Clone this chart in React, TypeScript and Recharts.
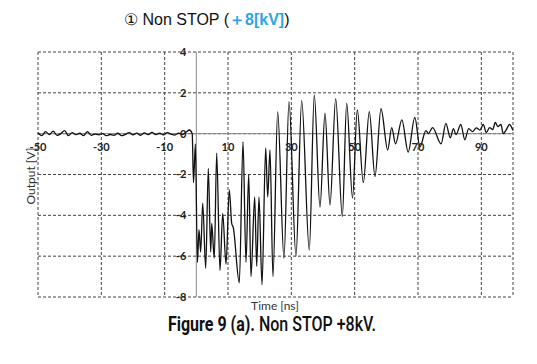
import { LineChart, Line, XAxis, YAxis, CartesianGrid, ReferenceLine, ReferenceDot } from "recharts";

// time in ns
const times = [
  -50, -48.8, -47.6, -46.4, -45.2, -44, -42.8, -41.6, -40.4, -39.2, -38, -36.8, -35.6, -34.4, -33.2, -32,
  -30.8, -29.6, -28.4, -27.2, -26, -24.8, -23.6, -22.4, -21.2, -20, -18.8, -17.6, -16.4, -15.2, -14, -12.8,
  -11.6, -10.4, -9.2, -8, -6.8, -5.6, -4.4, -3.2, -2.2, -1.3,
  -0.9, -0.3, 0.35, 0.84, 1.38, 2.01, 2.96, 3.78, 4.54, 4.85, 5.67, 6.43, 7.47, 8.33, 9.37, 10.41, 11.17, 11.67,
  13.57, 14.74, 15.68, 16.54, 17.26, 18.43, 19.06, 19.79, 20.74, 21.9, 22.54, 23.26, 24.2, 25.69, 27.68, 29.26,
  31.47, 33.27, 35.67, 37.25, 39.05, 40.63, 42.21, 44.01, 46.1, 47.48, 49.32, 50.83, 52.73, 54.62, 56.42, 58.32,
  60.43, 61.7, 62.9, 64.9, 66.9, 69.0, 70.6, 72.5, 73.3, 74.6, 77.3, 78.8, 80.2, 81.2, 82.0, 83.5, 84.8,
  86.0, 87.2, 88.4, 89.6, 90.6, 91.6, 92.6, 93.6, 94.4, 95.2, 96.2, 96.9, 97.9, 98.9, 100,
];

// output in V
const volts = [
  0.05, -0.1, 0.1, -0.05, 0.12, -0.08, 0.0, 0.15, -0.1, 0.05, -0.05, 0.02, -0.1, 0.1, -0.08, -0.02,
  -0.06, 0.0, -0.1, -0.04, -0.08, 0.02, -0.1, -0.03, 0.05, -0.06, 0.03, -0.08, 0.04, -0.05, 0.06, -0.04,
  0.02, -0.06, 0.05, -0.02, -0.07, 0.03, -0.04, 0.08, 0.18, 0.0,
  -2.4, -0.5, -6.3, -4.7, -5.8, -3.4, -6.6, -1.7, -5.8, -4.4, -6.1, -0.95, -6.7, -3.9, -6.4, -2.75, -4.4, -4.6,
  -7.3, -0.4, -6.3, -2.0, -7.0, -3.1, -6.5, -3.1, -7.4, -0.7, -3.1, -0.8, -7.0, 1.07, -6.1, 1.57,
  -6.0, 1.62, -5.7, 1.9, -3.6, 1.0, -3.5, 1.72, -4.06, 1.5, -3.15, 1.16, -2.4, 1.08, -2.1, 1.22,
  -0.8, 0.3, -0.5, 0.68, -0.9, 0.8, -0.65, 0.15, 0.0, 0.3, -0.5, 0.5, -0.2, 0.25, -0.05, 0.45, -0.3,
  0.25, 0.1, 0.28, 0.18, 0.45, 0.05, 0.3, 0.2, 0.55, 0.35, 0.45, 0.0, 0.2, 0.45, 0.15,
];

const xTicks = [-50, -30, -10, 10, 30, 50, 70, 90];
const yTicks = [4, 2, 0, -2, -4, -6, -8];

const data = times.map((t, i) => ({ t, v: volts[i] }));

const tickFont = { fontFamily: "Lato, sans-serif", fontWeight: 700, fontSize: 11, fill: "#222" };

export default function App() {
  return (
    <div style={{ position: "absolute", left: 0, top: 0, width: 537, height: 364, background: "#fff" }}>
      <div
        style={{
          position: "absolute", left: 124, top: 10, fontFamily: "'Liberation Sans', Arial, sans-serif",
          fontSize: 16, color: "#111", whiteSpace: "nowrap",
        }}
      >
        ① Non STOP (<span style={{ color: "#2ea6e0", fontWeight: 700 }}>＋8[kV]</span>)
      </div>
      <LineChart width={537} height={364} data={data} margin={{ top: 52, right: 24, bottom: 67, left: 38 }}>
        <XAxis dataKey="t" type="number" domain={[-50, 100]} ticks={xTicks} hide />
        <YAxis type="number" domain={[-8, 4]} ticks={yTicks} hide />
        <CartesianGrid stroke="#444" strokeDasharray="3 2" />
        <ReferenceLine x={0} stroke="#8a8a8a" strokeWidth={1} />
        <ReferenceLine y={0} stroke="#8a8a8a" strokeWidth={1} />
        {xTicks.map((t) => (
          <ReferenceDot
            key={"x" + t}
            x={t}
            y={0}
            r={0}
            fill="none"
            stroke="none"
            label={{ value: String(t), position: "bottom", offset: 10, style: tickFont }}
          />
        ))}
        {yTicks.map((v) => (
          <ReferenceDot
            key={"y" + v}
            x={0}
            y={v}
            r={0}
            fill="none"
            stroke="none"
            label={{ value: String(v), position: "left", offset: 10, style: tickFont }}
          />
        ))}
        <Line
          type="monotone"
          dataKey="v"
          stroke="#111"
          strokeWidth={1.3}
          dot={false}
          isAnimationActive={false}
        />
      </LineChart>
      <div
        style={{
          position: "absolute", left: 0, top: 298, width: 550, textAlign: "center",
          fontFamily: "Lato, sans-serif", fontSize: 12, color: "#333",
        }}
      >
        Time [ns]
      </div>
      <div
        style={{
          position: "absolute", left: 30, top: 176, transform: "translate(-50%, -50%) rotate(-90deg)",
          fontFamily: "Lato, sans-serif", fontSize: 12, color: "#333", whiteSpace: "nowrap",
        }}
      >
        Output [V]
      </div>
      <div
        style={{
          position: "absolute", left: 0, top: 312, width: 544, textAlign: "center",
          fontFamily: "Roboto, sans-serif", fontWeight: 500, transform: "scaleX(0.8)",
          fontSize: 20, color: "#111", whiteSpace: "nowrap",
        }}
      >
        <b>Figure 9 (a).</b> Non STOP +8kV.
      </div>
    </div>
  );
}
